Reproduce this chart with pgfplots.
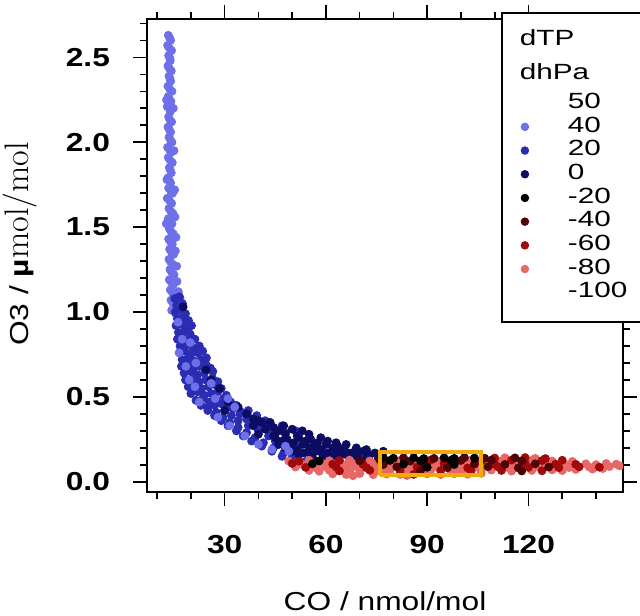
\documentclass[border=0pt]{standalone}
\usepackage{pgfplots}
\pgfplotsset{compat=1.18}
\usepackage{fontspec}
\newfontfamily\hvt[FakeStretch=1.22]{Liberation Sans}
\newfontfamily\hvl[FakeStretch=1.35]{Liberation Sans}
\definecolor{cA}{RGB}{110,112,234}
\definecolor{cB}{RGB}{42,44,178}
\definecolor{cC}{RGB}{12,12,98}
\definecolor{cD}{RGB}{232,104,104}
\definecolor{cE}{RGB}{160,10,10}
\definecolor{cF}{RGB}{78,4,4}
\definecolor{cG}{RGB}{0,0,0}
\definecolor{boxc}{RGB}{242,170,10}
\newcommand\rl{\rule[-3.3pt]{0pt}{11.85pt}}
\begin{document}
\begin{tikzpicture}
\begin{axis}[
  scale only axis, width=238pt, height=236.5pt,
  xmin=7, xmax=148, ymin=-0.06, ymax=2.726,
  clip marker paths=true,
  xtick={30,60,90,120}, xticklabels={30,60,90,120},
  minor xtick={10,20,40,50,70,80,100,110,130,140},
  ytick={0,0.5,1,1.5,2,2.5}, yticklabels={0.0,0.5,1.0,1.5,2.0,2.5},
  minor ytick={0.1,0.2,0.3,0.4,0.6,0.7,0.8,0.9,1.1,1.2,1.3,1.4,1.6,1.7,1.8,1.9,2.1,2.2,2.3,2.4,2.6,2.7},
  tick align=outside, major tick length=7pt, minor tick length=3.5pt,
  every tick/.style={black, line width=0.8pt},
  axis line style={line width=1pt},
  /pgf/number format/assume math mode=true,
  ticklabel style={font=\hvt\bfseries\fontsize{13}{15}\selectfont},
  xticklabel style={yshift=-11pt},
  yticklabel style={xshift=-8pt},
  xlabel={\hvt\fontsize{13}{15}\selectfont CO / nmol/mol},
  xlabel style={at={(axis description cs:0.5,-0.2305)}, anchor=center},
  ylabel={{\hvt\fontsize{13}{15}\selectfont O3 / }{\hvt\bfseries\fontsize{13}{15}\selectfont µ}{\fontsize{17}{20}\selectfont\addfontfeature{LetterSpace=16}mol/mol}},
  ylabel style={at={(axis description cs:-0.267,0.524)}, anchor=center},
  legend cell align=left,
  legend style={at={(axis description cs:1.046,1.0148)}, anchor=north east,
    draw=black, line width=1pt, fill=white, inner sep=0pt,
    row sep=0pt, column sep=0pt,
    font=\hvl\fontsize{11}{13}\selectfont,
    nodes={inner sep=0pt, text depth=, text height=, anchor=west}},
  legend image code/.code={\path (0pt,0pt) (32pt,0pt); \draw[#1,line width=0.4pt] plot coordinates {(11pt,0pt)};},
]
% light blue column (dTP 20..40)
\addplot[only marks, mark=*, mark size=2pt, color=cA, forget plot] coordinates {
(13.3,2.63)(13.1,2.57)(13.4,2.51)(13.2,2.45)(13.5,2.39)(13.2,2.33)(13.3,2.27)(13.0,2.21)(13.4,2.15)(13.2,2.09)(13.5,2.03)(13.1,1.97)(13.3,1.91)(13.6,1.85)(13.2,1.79)(13.4,1.73)(13.0,1.67)(13.5,1.61)(13.3,1.55)(13.6,1.49)(13.4,1.43)(13.7,1.37)(13.5,1.31)(13.8,1.25)(13.6,1.19)(13.9,1.13)(14.1,1.07)(14.3,1.01)
(14.0,2.60)(14.3,2.54)(13.9,2.48)(14.2,2.42)(14.0,2.36)(14.4,2.30)(14.1,2.24)(13.9,2.18)(14.3,2.12)(14.0,2.06)(14.4,2.00)(14.1,1.94)(14.5,1.88)(14.2,1.82)(14.0,1.76)(14.6,1.70)(14.3,1.64)(14.7,1.58)(14.4,1.52)(14.8,1.46)(14.5,1.40)(14.9,1.34)(14.6,1.28)(15.0,1.22)(14.8,1.16)(15.2,1.10)(15.0,1.04)
(13.7,2.615)(13.6,2.555)(13.8,2.495)(13.6,2.435)(13.8,2.375)(13.7,2.315)(13.6,2.255)(13.8,2.195)(13.7,2.135)(13.6,2.075)(13.9,2.015)(13.7,1.955)(13.8,1.895)(13.9,1.835)(13.6,1.775)(14.0,1.715)(13.7,1.655)(14.0,1.595)(13.8,1.535)(14.1,1.475)(13.9,1.415)(14.2,1.355)(14.0,1.295)(14.3,1.235)(14.2,1.175)(14.5,1.115)(14.6,1.055)
(15.3,1.56)(15.6,1.44)(15.4,1.36)(15.8,1.27)(15.9,1.18)(16.3,1.12)(16.0,1.05)(16.8,1.08)(15.5,0.99)(12.8,2.25)(12.9,1.78)(12.7,1.52)(14.8,2.20)(15.0,1.95)(15.2,1.72)
};
% medium blue band (dTP 0..20)
\addplot[only marks, mark=*, mark size=2pt, color=cB, forget plot] coordinates {
(15.2,1.08)(16.6,1.09)(15.8,1.04)(17.5,1.05)(15.4,1.00)(17.0,1.01)(18.4,0.99)(16.0,0.96)(17.8,0.97)(19.3,0.95)(15.6,0.92)(17.2,0.93)(19.0,0.91)(20.2,0.92)(16.3,0.88)(18.0,0.89)(19.8,0.87)(16.0,0.84)(17.6,0.85)(19.4,0.83)(21.2,0.84)(16.8,0.80)(18.6,0.81)(20.5,0.79)(22.5,0.80)(16.6,0.76)(18.2,0.77)(20.0,0.75)(22.0,0.76)(23.5,0.77)(17.4,0.72)(19.2,0.73)(21.2,0.71)(23.0,0.72)(24.6,0.73)(17.2,0.68)(19.0,0.69)(20.8,0.67)(22.6,0.68)(24.5,0.69)(25.8,0.67)(18.0,0.64)(20.0,0.65)(22.0,0.63)(24.0,0.64)(26.5,0.65)(18.4,0.60)(20.5,0.61)(22.4,0.59)(24.4,0.60)(26.4,0.61)(28.0,0.59)(19.2,0.56)(21.2,0.57)(23.2,0.55)(25.2,0.56)(27.3,0.57)(29.0,0.55)(20.0,0.52)(22.0,0.53)(24.0,0.51)(26.0,0.52)(28.0,0.53)(30.5,0.51)(21.5,0.48)(23.5,0.49)(25.5,0.47)(27.6,0.48)(29.6,0.49)(31.8,0.47)(23.0,0.45)(25.0,0.44)(27.0,0.45)(29.0,0.46)(31.0,0.44)(33.5,0.45)(25.0,0.42)(27.5,0.41)(30.0,0.42)(32.5,0.43)(35.0,0.41)(37.0,0.42)(27.0,0.39)(29.5,0.38)(32.0,0.39)(34.5,0.40)(37.0,0.38)(39.5,0.39)(29.0,0.36)(31.5,0.35)(34.0,0.36)(36.5,0.37)(39.0,0.35)(42.0,0.36)(31.0,0.33)(34.0,0.32)(37.0,0.33)(40.0,0.34)(43.0,0.32)(47.0,0.33)(33.5,0.30)(36.5,0.29)(40.0,0.30)(44.0,0.31)(48.0,0.29)(51.0,0.30)(35.5,0.27)(39.0,0.26)(43.0,0.27)(38.0,0.24)(41.5,0.23)(45.0,0.24)(41.0,0.21)(44.5,0.20)(48.0,0.21)(44.0,0.18)(47.5,0.17)(47.0,0.15)(50.0,0.15)(54.0,0.12)
};
% navy (dTP -20..0)
\addplot[only marks, mark=*, mark size=2pt, color=cC, forget plot] coordinates {
(40.0,0.36)(43.5,0.35)(38.5,0.33)(44.5,0.32)(47.5,0.33)(42.0,0.31)(46.0,0.30)(50.0,0.31)(53.0,0.30)(40.0,0.28)(44.5,0.27)(48.0,0.28)(51.5,0.27)(55.0,0.28)(45.0,0.26)(48.5,0.25)(52.0,0.26)(55.5,0.25)(58.5,0.26)(47.0,0.24)(50.5,0.23)(54.0,0.24)(57.5,0.23)(60.5,0.24)(63.0,0.23)(46.0,0.22)(49.5,0.21)(53.0,0.22)(56.5,0.21)(60.0,0.22)(63.5,0.21)(66.0,0.22)(48.0,0.20)(51.5,0.19)(55.0,0.20)(58.5,0.19)(62.0,0.20)(65.5,0.19)(69.0,0.20)(72.0,0.19)(50.0,0.18)(53.5,0.17)(57.0,0.18)(60.5,0.17)(64.0,0.18)(67.5,0.17)(71.0,0.18)(74.5,0.17)(77.0,0.18)(52.0,0.16)(55.5,0.155)(59.0,0.16)(62.5,0.155)(66.0,0.16)(69.5,0.155)(73.0,0.16)(76.5,0.155)(56.0,0.145)(60.0,0.14)(64.0,0.145)(68.0,0.14)(72.0,0.145)(75.5,0.14)
(28.5,0.55)(31.0,0.47)(34.0,0.44)(36.5,0.40)(26.0,0.60)(24.5,0.66)(38.5,0.37)(41.0,0.35)(30.0,0.42)(17.7,1.03)
};
% light blue spots over the band
\addplot[only marks, mark=*, mark size=2pt, color=cA, forget plot] coordinates {
(16.2,0.94)(17.4,0.84)(16.5,0.76)(18.5,0.68)(21.2,0.56)(19.5,0.60)(26.0,0.58)(27.2,0.49)(31.0,0.49)(33.0,0.44)(22.5,0.47)(28.0,0.38)(31.5,0.33)(36.0,0.27)(40.0,0.22)(44.0,0.19)(48.0,0.21)(49.0,0.18)(52.0,0.11)(53.3,0.10)(19.8,0.82)(21.5,0.70)
};
% salmon (dTP -100..-80)
\addplot[only marks, mark=*, mark size=2pt, color=cD, forget plot] coordinates {
(113,0.142)(122,0.138)
(49,0.122)(55,0.127)(61,0.124)(67,0.128)(73,0.123)(82,0.127)(94,0.124)(103,0.129)(112,0.123)(121,0.127)(127,0.122)(133,0.120)
(53,0.103)(59,0.107)(65,0.102)(68,0.108)(74,0.104)(80,0.107)(86,0.102)(92,0.106)(101,0.103)(107,0.108)(116,0.104)(125,0.107)(131,0.102)(137,0.106)(140,0.101)(143,0.108)(146,0.104)
(51,0.087)(57,0.083)(60,0.088)(66,0.084)(69,0.089)(75,0.083)(78,0.087)(84,0.082)(93,0.088)(99,0.084)(105,0.086)(114,0.083)(123,0.088)(132,0.084)(138,0.087)(144,0.090)(147,0.094)
(55,0.067)(58,0.062)(61,0.068)(67,0.063)(70,0.066)(76,0.062)(79,0.068)(85,0.064)(91,0.067)(97,0.062)(100,0.068)(106,0.064)(109,0.069)(115,0.063)(121,0.067)(127,0.070)(130,0.066)(134,0.073)(139,0.075)(142,0.078)
(62,0.047)(66,0.043)(70,0.048)(74,0.042)(78,0.046)(82,0.044)(90,0.047)(94,0.043)(98,0.048)(102,0.045)(106,0.050)
(68,0.036)(84,0.037)
};
% dark red (dTP -80..-60)
\addplot[only marks, mark=*, mark size=2pt, color=cE, forget plot] coordinates {
(110,0.140)(119,0.143)(125,0.137)
(52,0.121)(64,0.126)(91,0.128)(106,0.124)(115,0.128)(124,0.125)(130,0.127)
(50,0.108)(62,0.104)(71,0.102)(95,0.107)(110,0.103)(119,0.108)(128,0.104)(134,0.103)
(54,0.085)(63,0.088)(72,0.083)(87,0.087)(102,0.082)(111,0.088)(120,0.085)(129,0.083)(135,0.088)(141,0.086)
(64,0.064)(73,0.068)(82,0.063)(94,0.066)(103,0.063)(112,0.067)(124,0.065)
(86,0.044)
};
% maroon (dTP -60..-40)
\addplot[only marks, mark=*, mark size=2pt, color=cF, forget plot] coordinates {
(83,0.141)(92,0.138)(101,0.142)(107,0.139)(116,0.141)
(70,0.123)(76,0.128)(85,0.122)(100,0.126)(109,0.128)(118,0.124)
(77,0.102)(89,0.108)(104,0.105)(113,0.102)(122,0.106)
(81,0.088)(96,0.083)(108,0.089)(117,0.082)(126,0.087)
(88,0.065)(118,0.064)
};
% black (dTP -40..-20)
\addplot[only marks, mark=*, mark size=2pt, color=cG, forget plot] coordinates {
(77,0.143)(80,0.139)(86,0.142)(89,0.137)(95,0.141)(98,0.138)(104,0.140)
(58,0.123)(79,0.126)(88,0.124)(97,0.127)
(56,0.106)(83,0.104)(98,0.102)
(90,0.086)
};
% highlighted box
\addplot[draw=boxc, line width=2pt, line join=miter, mark=none, forget plot] coordinates {(76,0.04) (106,0.04) (106,0.176) (76,0.176) (76,0.04)};
% legend
\addlegendimage{empty legend}
\addlegendentry{\hspace*{-24pt}dTP\rule[-4pt]{0pt}{20.35pt}}
\addlegendimage{empty legend}
\addlegendentry{\hspace*{-24pt}dhPa\rule[-3pt]{0pt}{16.05pt}}
\addlegendimage{empty legend}
\addlegendentry{\makebox[38pt][l]{50}\rule[-3.3pt]{0pt}{14.6pt}}
\addlegendimage{only marks, mark=*, mark size=1.9pt, color=cA}
\addlegendentry{\makebox[38pt][l]{40}\rl}
\addlegendimage{only marks, mark=*, mark size=1.9pt, color=cB}
\addlegendentry{20\rl}
\addlegendimage{only marks, mark=*, mark size=1.9pt, color=cC}
\addlegendentry{0\rl}
\addlegendimage{only marks, mark=*, mark size=1.9pt, color=cG}
\addlegendentry{-20\rl}
\addlegendimage{only marks, mark=*, mark size=1.9pt, color=cF}
\addlegendentry{-40\rl}
\addlegendimage{only marks, mark=*, mark size=1.9pt, color=cE}
\addlegendentry{-60\rl}
\addlegendimage{only marks, mark=*, mark size=1.9pt, color=cD}
\addlegendentry{-80\rl}
\addlegendimage{empty legend}
\addlegendentry{-100\rule[-12.2pt]{0pt}{20.75pt}}
\end{axis}
\pgfresetboundingbox
\path ([shift={(-73.5pt,-61.5pt)}]current axis.south west) rectangle ([shift={(8.5pt,9.5pt)}]current axis.north east);
\end{tikzpicture}
\end{document}
